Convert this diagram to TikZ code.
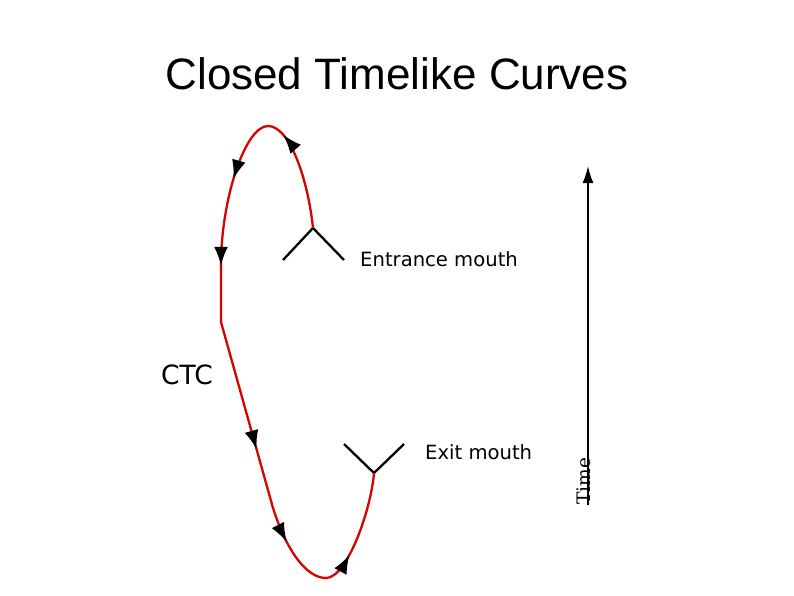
\documentclass[tikz,border=0pt]{standalone}
\usepackage{fontspec}
\setmainfont{Liberation Sans}
\newfontfamily\labelfont{DejaVu Sans}
\newfontfamily\timefont{DejaVu Serif}
\usetikzlibrary{arrows.meta,decorations.markings}
\tikzset{ctctip/.tip={Latex[length=19pt,width=14pt,black]}}
\begin{document}
\begin{tikzpicture}[x=1pt,y=-1pt,
  mouth/.style={line width=2.3pt,black},
  ctcline/.style={line width=2.3pt,red!85!black},
  lbl/.style={inner sep=0pt,anchor=base west,font=\labelfont\fontsize{19.6}{23}\selectfont},
  arrowmarks/.style={postaction={decorate},decoration={markings,
    mark=at position 0.135 with {\arrow{ctctip}},
    mark=at position 0.25 with {\arrow{ctctip}},
    mark=at position 0.37 with {\arrow{ctctip}},
    mark=at position 0.627 with {\arrow{ctctip}},
    mark=at position 0.76 with {\arrow{ctctip}},
    mark=at position 0.883 with {\arrow{ctctip}}}}]
\useasboundingbox (0,0) rectangle (794,595);
\node[anchor=base,inner sep=0pt,font=\fontsize{44}{50}\selectfont] (title) at (397,89) {Closed Timelike Curves};
% mouths
\coordinate (en) at (313,228);
\coordinate (enL) at (283,260);
\coordinate (enR) at (344,260);
\coordinate (ex) at (374,473);
\coordinate (exL) at (344,444);
\coordinate (exR) at (404,444);
\draw[mouth] (enL) -- (en) -- (enR);
\draw[mouth] (exL) -- (ex) -- (exR);
% curve
\coordinate (top) at (268,126);
\coordinate (lv1) at (221,262);
\coordinate (lv2) at (221,322);
\coordinate (ld) at (273,508);
\coordinate (bot) at (326,578);
\draw[ctcline,arrowmarks] (en) .. controls (308,180) and (290,126) .. (top)
  .. controls (246,126) and (222,195) .. (lv1) -- (lv2) -- (ld)
  .. controls (287,552) and (307,578) .. (bot)
  .. controls (347,578) and (371,510) .. (ex);
\node[lbl] (entr) at (360,266) {Entrance mouth};
\node[lbl] (exit) at (425,459) {Exit mouth};
\node[inner sep=0pt,anchor=base west,font=\labelfont\fontsize{26.5}{31}\selectfont] (ctc) at (161,384) {CTC};
% time arrow
\coordinate (t0) at (588,505);
\coordinate (t1) at (588,166);
\draw[line width=1.7pt,-{Latex[length=17pt,width=11pt]}] (t0) -- (t1);
\node[inner sep=0pt,anchor=base west,rotate=90,font=\timefont\fontsize{18.6}{22}\selectfont] (time) at (590,505) {Time};
\end{tikzpicture}
\end{document}
